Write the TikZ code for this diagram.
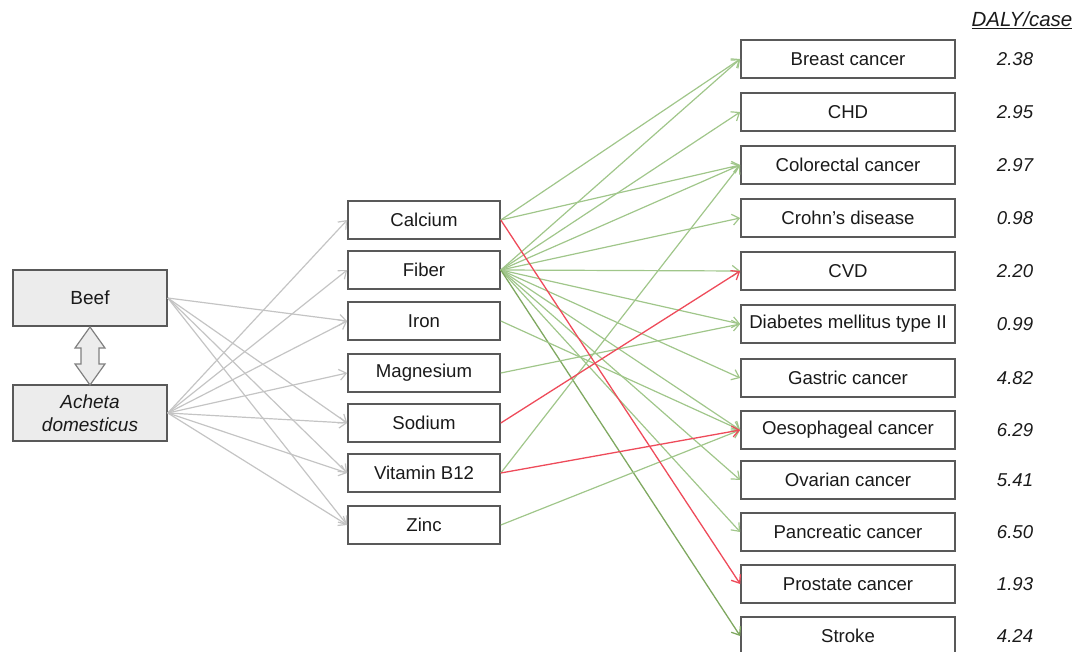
\documentclass[tikz,border=0pt]{standalone}
\usepackage{fontspec}
\setmainfont{Liberation Sans}
\usetikzlibrary{arrows.meta}
\definecolor{boxline}{HTML}{595959}
\definecolor{leftfill}{HTML}{ECECEC}
\definecolor{grayarr}{HTML}{C4C4C4}
\definecolor{greenarr}{HTML}{A0C68A}
\definecolor{darkgreen}{HTML}{7FA860}
\definecolor{redarr}{HTML}{EE4B5A}
\definecolor{txt}{HTML}{1A1A1A}
\begin{document}
\begin{tikzpicture}[x=1pt,y=-1pt,
  nbox/.style={draw=boxline, line width=1.6pt, fill=white, minimum width=152pt, minimum height=38pt, inner sep=0pt, text=txt, font=\fontsize{18.6}{21}\selectfont},
  dbox/.style={nbox, minimum width=214pt},
  lbox/.style={nbox, fill=leftfill, minimum width=154pt, minimum height=56pt, align=center, font=\fontsize{19}{23}\selectfont},
  daly/.style={text=txt, font=\fontsize{18.6}{21}\selectfont\itshape, inner sep=0pt},
  garr/.style={draw=grayarr, line width=1.2pt, -{Straight Barb[length=7pt,width=11pt]}},
  grarr/.style={draw=greenarr, line width=1.2pt, -{Straight Barb[length=7pt,width=11pt]}},
  dgarr/.style={draw=darkgreen, line width=1.3pt, -{Straight Barb[length=7pt,width=11pt]}},
  rarr/.style={draw=redarr, line width=1.3pt, -{Straight Barb[length=7pt,width=11pt]}},
  dbl/.style={draw=gray, fill=leftfill, line width=1.2pt, line join=miter}
]
\useasboundingbox (0,0) rectangle (1078,652);

% left boxes
\node[lbox] (beef) at (90,298) {Beef};
\node[lbox] (acheta) at (90,413) {\itshape Acheta\\\itshape domesticus};

% double arrow
\draw[dbl] (90,327) -- (105,348) -- (99,348) -- (99,364) -- (105,364) -- (90,385)
  -- (75,364) -- (81,364) -- (81,348) -- (75,348) -- cycle;

% nutrients
\node[nbox] (calcium) at (424,220) {Calcium};
\node[nbox] (fiber) at (424,270) {Fiber};
\node[nbox] (iron) at (424,321) {Iron};
\node[nbox] (magnesium) at (424,373) {Magnesium};
\node[nbox] (sodium) at (424,423) {Sodium};
\node[nbox] (vitb) at (424,473) {Vitamin B12};
\node[nbox] (zinc) at (424,525) {Zinc};

% diseases
\node[dbox] (breast) at (848,59) {Breast cancer};
\node[dbox] (chd) at (848,112) {CHD};
\node[dbox] (colorectal) at (848,165) {Colorectal cancer};
\node[dbox] (crohn) at (848,218) {Crohn's disease};
\node[dbox] (cvd) at (848,271) {CVD};
\node[dbox] (diabetes) at (848,324) {Diabetes mellitus type II};
\node[dbox] (gastric) at (848,378) {Gastric cancer};
\node[dbox] (oeso) at (848,430) {Oesophageal cancer};
\node[dbox] (ovarian) at (848,480) {Ovarian cancer};
\node[dbox] (pancreatic) at (848,532) {Pancreatic cancer};
\node[dbox] (prostate) at (848,584) {Prostate cancer};
\node[dbox] (stroke) at (848,636) {Stroke};

% DALY column
\node[daly, font=\fontsize{20.5}{23}\selectfont\itshape] (dalyhead) at (1022,20) {\underline{DALY/case}};
\node[daly] (d1) at (1015,59) {2.38};
\node[daly] (d2) at (1015,112) {2.95};
\node[daly] (d3) at (1015,165) {2.97};
\node[daly] (d4) at (1015,218) {0.98};
\node[daly] (d5) at (1015,271) {2.20};
\node[daly] (d6) at (1015,324) {0.99};
\node[daly] (d7) at (1015,378) {4.82};
\node[daly] (d8) at (1015,430) {6.29};
\node[daly] (d9) at (1015,480) {5.41};
\node[daly] (d10) at (1015,532) {6.50};
\node[daly] (d11) at (1015,584) {1.93};
\node[daly] (d12) at (1015,636) {4.24};

% gray arrows
\foreach \t in {iron,sodium,vitb,zinc}
  \draw[garr] (beef.east) -- (\t.west);
\foreach \t in {calcium,fiber,iron,magnesium,sodium,vitb,zinc}
  \draw[garr] (acheta.east) -- (\t.west);

% green arrows
\draw[grarr] (calcium.east) -- (breast.west);
\draw[grarr] (calcium.east) -- (colorectal.west);
\foreach \t in {breast,chd,colorectal,crohn,cvd,diabetes,gastric,oeso,ovarian,pancreatic}
  \draw[grarr] (fiber.east) -- (\t.west);
\draw[dgarr] (fiber.east) -- (stroke.west);
\draw[grarr] (iron.east) -- (oeso.west);
\draw[grarr] (magnesium.east) -- (diabetes.west);
\draw[grarr] (vitb.east) -- (colorectal.west);
\draw[grarr] (zinc.east) -- (oeso.west);

% red arrows
\draw[rarr] (calcium.east) -- (prostate.west);
\draw[rarr] (sodium.east) -- (cvd.west);
\draw[rarr] (vitb.east) -- (oeso.west);
\end{tikzpicture}
\end{document}
